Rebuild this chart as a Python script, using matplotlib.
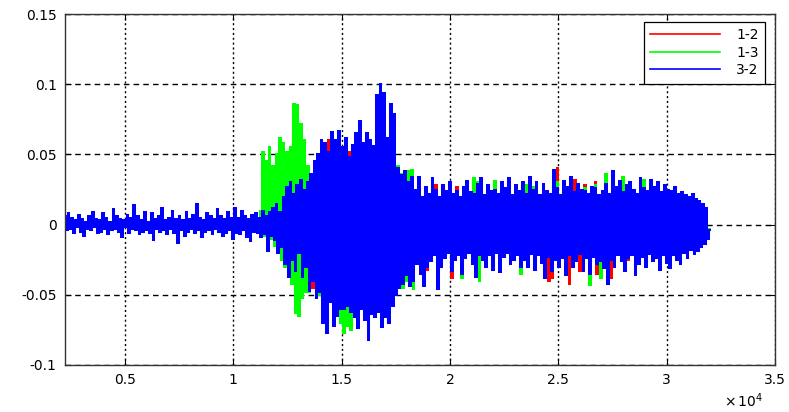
import numpy as np
import matplotlib
matplotlib.use("Agg")
import matplotlib.pyplot as plt

# ---------------- data (values in units of 1e-3) ----------------
SAMPLE_STEP = 80          # spacing of the read-off samples on the x axis
START_32 = 2240           # first sample of series "3-2"
START_13 = 2240           # first sample of series "1-3"
START_12 = 11040          # first sample of series "1-2"
VALUE_SCALE = 1e-3

series_labels = ["1-2", "1-3", "3-2"]
series_colors = ["#ff0000", "#00ff00", "#0000ff"]

values_32 = [
    6, -4, 8, -3, 5, -6, 3, -2, 7, -5,
    4, -8, 2, -3, 6, -4, 9, -2, 4, -6,
    3, -5, 8, -3, 5, -7, 2, -4, 11, -3,
    6, -5, 4, -9, 3, -2, 7, -6, 5, -3,
    14, -4, 6, -7, 3, -5, 9, -4, 2, -6,
    8, -11, 4, -3, 6, -5, 12, -4, 3, -7,
    5, -3, 10, -6, 4, -13, 6, -4, 3, -8,
    9, -5, 4, -3, 7, -6, 15, -4, 5, -9,
    3, -5, 8, -4, 6, -7, 4, -3, 11, -5,
    6, -8, 4, -6, 9, -4, 5, -10, 12, -6,
    5, -7, 10, -4, 6, -9, 4, -12, 7, -5,
    8, -6, 5, -9, 10, -7, 6, -19, 9, -8,
    12, -11, 15, -20, 9, -16, 20, -28, 27, -37,
    30, -25, 22, -33, 28, -20, 32, -37, 25, -30,
    30, -47, 36, -40, 45, -52, 50, -48, 60, -70,
    58, -77, 52, -55, 66, -72, 60, -65, 67, -60,
    55, -60, 62, -58, 48, -62, 57, -66, 65, -74,
    74, -60, 58, -68, 65, -82, 60, -64, 56, -66,
    92, -62, 100, -73, 94, -66, 62, -70, 86, -58,
    79, -50, 40, -45, 35, -42, 38, -36, 30, -44,
    34, -40, 25, -28, 34, -35, 20, -44, 27, -30,
    22, -26, 33, -22, 25, -46, 20, -30, 28, -24,
    24, -20, 30, -33, 22, -25, 24, -22, 20, -35,
    27, -24, 31, -20, 23, -28, 22, -37, 29, -22,
    33, -25, 21, -30, 28, -22, 24, -32, 25, -20,
    22, -34, 30, -23, 26, -20, 33, -28, 21, -25,
    28, -22, 24, -30, 30, -25, 22, -30, 34, -21,
    25, -32, 30, -22, 21, -27, 29, -38, 24, -23,
    22, -33, 39, -25, 26, -30, 21, -24, 31, -36,
    27, -22, 34, -30, 23, -26, 29, -21, 25, -33,
    24, -24, 22, -35, 27, -23, 26, -28, 21, -26,
    24, -31, 29, -42, 22, -25, 38, -30, 27, -22,
    31, -26, 23, -33, 28, -24, 30, -22, 25, -36,
    22, -28, 33, -23, 26, -30, 24, -21, 32, -26,
    27, -24, 30, -32, 23, -22, 28, -27, 25, -31,
    24, -22, 27, -25, 22, -28, 23, -20, 21, -24,
    20, -18, 22, -21, 18, -19, 17, -16, 15, -14,
    12, -10, -4,
]

values_13 = [
    0, 0, 0, 0, 0, 0, 0, 0, 0, 0,
    0, 0, 0, 0, 0, 0, 0, 0, 0, 0,
    0, 0, 0, 0, 0, 0, 0, 0, 0, 0,
    0, 0, 0, 0, 0, 0, 0, 0, 0, 0,
    0, 0, 0, 0, 0, 0, 0, 0, 0, 0,
    0, 0, 0, 0, 0, 0, 0, 0, 0, 0,
    0, 0, 0, 0, 0, 0, 0, 0, 0, 0,
    0, 0, 0, 0, 0, 0, 0, 0, 0, 0,
    0, 0, 0, 0, 0, 0, 0, 0, 0, 0,
    0, 0, 0, 0, 0, 0, 0, 0, 0, 0,
    0, 0, 0, 0, 0, 0, 0, 0, 0, 0,
    0, 0, 0, 10, 52, -8, 45, -12, 55, -10,
    42, -15, 50, -18, 62, -25, 58, -30, 52, -33,
    55, -42, 86, -63, 85, -65, 72, -52, 60, -48,
    42, -48, 35, -40, 30, -45, 38, -50, 45, -55,
    40, -50, 45, -55, 42, -60, 38, -52, 44, -70,
    40, -77, 45, -72, 42, -75, 38, -55, 40, -60,
    40, -50, 45, -55, 42, -48, 40, -52, 38, -50,
    45, -50, 40, -52, 48, -45, 42, -50, 38, -48,
    35, -40, 42, -38, 36, -45, 33, -40, 38, -35,
    39, -46, 25, -24, 30, -30, 18, -35, 22, -26,
    18, -22, 28, -20, 22, -30, 18, -26, 24, -20,
    20, -18, 25, -28, 18, -22, 20, -20, 18, -38,
    22, -20, 26, -18, 20, -25, 33, -30, 30, -40,
    28, -22, 18, -25, 24, -20, 20, -28, 31, -18,
    18, -28, 25, -20, 22, -18, 28, -24, 18, -22,
    24, -18, 20, -35, 22, -22, 28, -26, 30, -18,
    27, -28, 26, -20, 18, -24, 25, -34, 20, -20,
    18, -30, 34, -22, 30, -26, 18, -20, 28, -32,
    24, -20, 30, -26, 20, -22, 26, -18, 22, -30,
    26, -20, 18, -43, 24, -20, 28, -25, 18, -38,
    20, -28, 36, -38, 18, -22, 34, -26, 24, -20,
    28, -22, 34, -30, 24, -20, 26, -18, 22, -32,
    18, -24, 28, -20, 32, -26, 20, -18, 28, -22,
    24, -20, 26, -28, 20, -18, 24, -24, 22, -27,
    20, -18, 24, -22, 18, -24, 20, -17, 18, -20,
    17, -15, 18, -18, 15, -16, 14, -13, 12, -11,
    10, -8, -3,
]

values_12 = [
    0, 0, 0, 0, 20, -5, 25, -8, 22, -9,
    15, -10, 21, -12, 18, -14, 16, -20, 14, -18,
    25, -20, 30, -35, 28, -30, 25, -40, 22, -38,
    30, -40, 32, -45, 35, -42, 40, -48, 50, -53,
    45, -53, 60, -50, 55, -58, 50, -55, 52, -58,
    45, -55, 48, -58, 52, -56, 50, -60, 45, -62,
    40, -48, 42, -50, 45, -46, 40, -50, 38, -48,
    42, -48, 40, -50, 45, -44, 40, -48, 36, -46,
    30, -35, 32, -38, 28, -36, 30, -34, 26, -32,
    30, -35, 20, -22, 24, -28, 16, -30, 20, -32,
    16, -20, 24, -18, 28, -24, 16, -22, 20, -18,
    18, -16, 22, -38, 16, -20, 27, -18, 16, -28,
    20, -18, 24, -16, 18, -22, 20, -28, 26, -20,
    24, -20, 16, -22, 20, -18, 18, -26, 22, -16,
    16, -22, 20, -18, 20, -16, 24, -20, 16, -20,
    20, -16, 18, -26, 18, -20, 18, -22, 26, -16,
    20, -24, 22, -18, 16, -20, 22, -28, 18, -40,
    16, -38, 26, -20, 40, -24, 16, -18, 24, -30,
    20, -42, 24, -22, 32, -20, 22, -33, 20, -26,
    28, -22, 16, -30, 20, -18, 30, -35, 16, -28,
    18, -24, 22, -30, 16, -38, 24, -22, 20, -18,
    22, -18, 24, -24, 20, -25, 22, -16, 18, -24,
    16, -20, 22, -18, 20, -22, 18, -16, 22, -20,
    20, -18, 22, -24, 16, -16, 20, -20, 18, -24,
    18, -16, 20, -18, 16, -20, 18, -15, 16, -18,
    15, -14, 16, -16, 14, -15, 13, -12, 11, -10,
    9, -7, -3,
]

x_ticks = [5000, 10000, 15000, 20000, 25000, 30000, 35000]
x_tick_labels = ["0.5", "1", "1.5", "2", "2.5", "3", "3.5"]
y_ticks = [-0.1, -0.05, 0, 0.05, 0.1, 0.15]
y_tick_labels = ["-0.1", "-0.05", "0", "0.05", "0.1", "0.15"]

# ---------------- figure ----------------
plt.rcParams["font.family"] = ["DejaVu Sans"]
plt.rcParams["mathtext.fontset"] = "dejavusans"

W, H = 789, 412
fig = plt.figure(figsize=(W / 100, H / 100), dpi=100)
ax = fig.add_axes([65 / W, 1 - 365 / H, 710 / W, 351 / H])


def series_xy(start, vals):
    v = np.asarray(vals, dtype=float) * VALUE_SCALE
    x = start + SAMPLE_STEP * np.arange(len(v))
    return x, v


for start, vals, lab, col in [
    (START_12, values_12, series_labels[0], series_colors[0]),
    (START_13, values_13, series_labels[1], series_colors[1]),
    (START_32, values_32, series_labels[2], series_colors[2]),
]:
    x, y = series_xy(start, vals)
    ax.plot(x, y, color=col, lw=1.45, label=lab, drawstyle="steps-mid",
            solid_joinstyle="miter")

ax.set_xlim(2240, 35000)
ax.set_ylim(-0.1, 0.15)
ax.set_xticks(x_ticks)
ax.set_xticklabels(x_tick_labels)
ax.set_yticks(y_ticks)
ax.set_yticklabels(y_tick_labels)

ax.tick_params(direction="in", length=4, width=0.8, top=True, right=True,
               labelsize=10, colors="black", pad=6)
for s in ax.spines.values():
    s.set_linewidth(1.0)
    s.set_color("#333333")

ax.set_axisbelow(True)
ax.xaxis.grid(True, color="black", lw=1.0, linestyle=(0, (1.5, 2.0)))
ax.yaxis.grid(True, color="black", lw=1.0, linestyle=(0, (4.0, 3.0)))

leg = ax.legend(loc="upper right", bbox_to_anchor=(0.986, 0.977),
                borderaxespad=0, fancybox=False, framealpha=1,
                edgecolor="black", fontsize=10, handlelength=5.0,
                handletextpad=1.2, labelspacing=0.25, borderpad=0.45)
leg.get_frame().set_linewidth(0.9)
for line in leg.get_lines():
    line.set_linewidth(1.2)

fig.text(724 / W, 1 - 401 / H, r"$\times\,10^{4}$", fontsize=10,
         ha="left", va="center")

fig.savefig("out.png", dpi=100)
